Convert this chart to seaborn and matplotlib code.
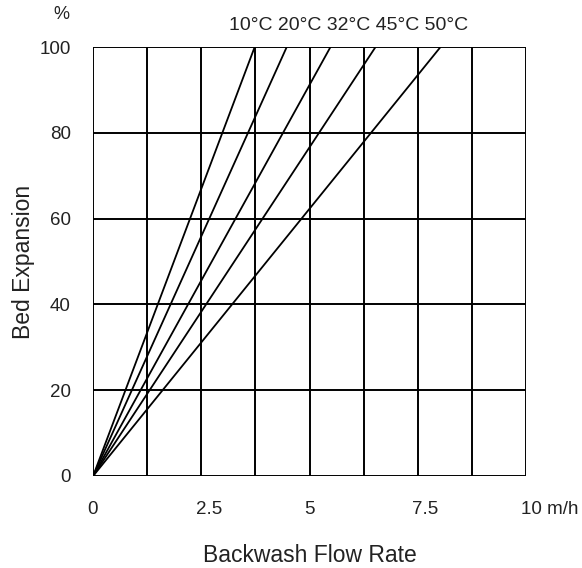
import numpy as np
import pandas as pd
import matplotlib.pyplot as plt
import matplotlib.transforms as mtransforms
import seaborn as sns

# temperatures and the flow rate (m/h) where each line reaches 100 % expansion
temps = ['10°C', '20°C', '32°C', '45°C', '50°C']
flow_at_100 = [3.73, 4.47, 5.48, 6.52, 8.02]
start_flow = 0.0
start_expansion = 0.0
end_expansion = 100.0

x_grid = [0, 1.25, 2.5, 3.75, 5, 6.25, 7.5, 8.75, 10]
y_grid = [0, 20, 40, 60, 80, 100]
x_ticks = [0, 2.5, 5, 7.5, 10]
x_tick_labels = ['0', '2.5', '5', '7.5', '10 m/h']
y_ticks = [0, 20, 40, 60, 80, 100]

rows = []
for t, f in zip(temps, flow_at_100):
    rows.append({'temp': t, 'flow': start_flow, 'expansion': start_expansion})
    rows.append({'temp': t, 'flow': f, 'expansion': end_expansion})
df = pd.DataFrame(rows)

sns.set_style('white')
plt.rcParams['font.family'] = ['Liberation Sans', 'DejaVu Sans']

fig = plt.figure(figsize=(5.82, 5.68), dpi=100)
ax = fig.add_axes([0.16, 0.162, 0.744, 0.755])

# grid drawn as plain black lines
for xv in x_grid:
    ax.axvline(xv, color='black', lw=1.4, zorder=1)
for yv in y_grid:
    ax.axhline(yv, color='black', lw=1.4, zorder=1)

sns.lineplot(data=df, x='flow', y='expansion', units='temp', estimator=None,
             color='black', lw=1.3, ax=ax, legend=False, zorder=2)

ax.set_xlim(0, 10)
ax.set_ylim(0, 100)
for s in ax.spines.values():
    s.set_visible(False)

ax.set_xticks(x_ticks)
ax.set_xticklabels(x_tick_labels)
ax.set_yticks(y_ticks)
ax.tick_params(axis='x', length=0, pad=18, labelsize=13.5, colors='#222222')
ax.tick_params(axis='y', length=0, pad=16, labelsize=13.5, colors='#222222')
shift = mtransforms.ScaledTranslation(-4 / 72, 0, fig.dpi_scale_trans)
for lab in ax.get_xticklabels():
    lab.set_horizontalalignment('left')
    lab.set_transform(lab.get_transform() + shift)

ax.set_xlabel('Backwash Flow Rate', fontsize=16.5, labelpad=19, color='#222222')
ax.set_ylabel('Bed Expansion', fontsize=16.5, labelpad=3, color='#222222')

ax.text(-0.055, 1.075, '%', transform=ax.transAxes, ha='right', va='center',
        fontsize=13, color='#222222')
ax.text(0.59, 1.05, ' '.join(temps), transform=ax.transAxes, ha='center',
        va='center', fontsize=14, color='#222222')

fig.savefig('out.png', dpi=100)
